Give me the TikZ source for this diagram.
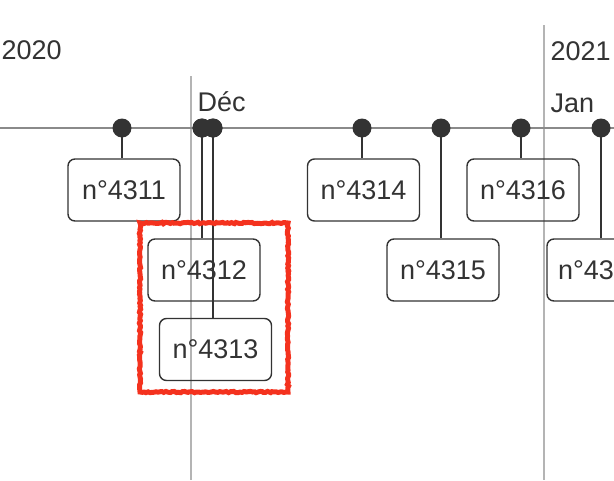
\documentclass[tikz,border=0pt]{standalone}
\usepackage{fontspec}
\setmainfont{Liberation Sans}
\usetikzlibrary{decorations.pathmorphing}
\definecolor{ink}{HTML}{333333}
\definecolor{axisgray}{HTML}{8A8A8A}
\definecolor{gridgray}{HTML}{B4B4B4}
\definecolor{markred}{HTML}{F4321E}
\tikzset{
  pin/.style={circle, fill=ink, minimum size=19pt, inner sep=0pt},
  ticket/.style={draw=ink, line width=1.4pt, rounded corners=7pt,
                 minimum width=112pt, minimum height=62pt, inner sep=0pt,
                 text=ink},
  datelbl/.style={text=ink, inner sep=0pt, anchor=base west}
}

\begin{document}
\begin{tikzpicture}[x=1pt, y=-1pt, line width=1.4pt,
                    font=\fontsize{27}{32}\selectfont]
  \clip (0,0) rectangle (614,480);
  % month and year lines
  \draw[gridgray] (191,76) -- (191,480);
  \draw[gridgray] (544,25) -- (544,480);
  \draw[axisgray, line width=1.8pt] (0,128) -- (614,128);
  \node[datelbl] (y2020) at (1,59) {2020};
  \node[datelbl] (y2021) at (550,60) {2021};
  \node[datelbl] (mdec) at (197,111) {Déc};
  \node[datelbl] (mjan) at (550,112) {Jan};
  % tickets
  \node[ticket] (b1) at (124,190) {n°4311};
  \node[ticket] (b2) at (204,270) {n°4312};
  \node[ticket] (b3) at (215.5,349.5) {n°4313};
  \node[ticket] (b4) at (363.5,190) {n°4314};
  \node[ticket] (b5) at (443,270) {n°4315};
  \node[ticket] (b6) at (523,190) {n°4316};
  \node[ticket, text width=90pt, align=left, inner xsep=11pt]
       (b7) at (603,270) {n°43};
  % pins on the axis
  \node[pin] (d1) at (122,128) {};
  \node[pin] (d2) at (202,128) {};
  \node[pin] (d3) at (213,128) {};
  \node[pin] (d4) at (362,128) {};
  \node[pin] (d5) at (441,128) {};
  \node[pin] (d6) at (521,128) {};
  \node[pin] (d7) at (601,128) {};
  \begin{scope}[ink]
    \draw (d1.center) -- (d1 |- b1.north);
    \draw (d2.center) -- (d2 |- b2.north);
    \draw (d3.center) -- (d3 |- b3.north);
    \draw (d4.center) -- (d4 |- b4.north);
    \draw (d5.center) -- (d5 |- b5.north);
    \draw (d6.center) -- (d6 |- b6.north);
    \draw (d7.center) -- (d7 |- b7.north);
  \end{scope}
  \node[pin] at (d2) {};
  \node[pin] at (d3) {};
  % hand-drawn highlight
  \draw[markred, line width=5pt, decorate,
        decoration={random steps, segment length=2pt, amplitude=0.7pt}]
       (140,223) rectangle (288,392);
\end{tikzpicture}
\end{document}
